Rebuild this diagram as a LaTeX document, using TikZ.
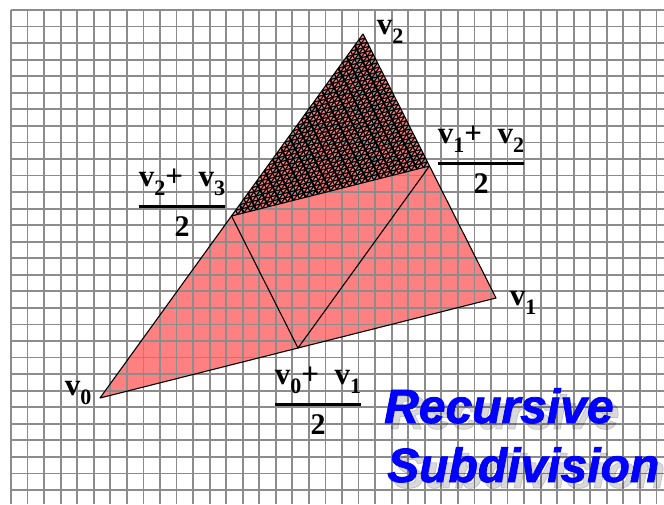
\documentclass[tikz,border=0pt]{standalone}
\usepackage{amsmath}
\usepackage{fontspec}
\setmainfont{Liberation Serif}
\newfontfamily\titlefont{Liberation Sans Bold Italic}[FakeBold=1.6]
\usetikzlibrary{calc, positioning}

\definecolor{tripink}{RGB}{255,128,128}
\definecolor{gridgray}{RGB}{140,140,140}
\definecolor{titleblue}{RGB}{0,0,255}

% vertex label: bold v with a lowered index
\newcommand\vv[1]{\textbf{v}\raisebox{-0.3em}{\fontsize{22}{22}\selectfont\bfseries #1}}
% half sum of two vertices
\newcommand\halfsum[2]{$\genfrac{}{}{3pt}{0}{\text{\vv{#1}\textbf{+}\hspace{0.5em}\vv{#2}}}{\text{\fontsize{30}{30}\selectfont\bfseries 2}}$}

\begin{document}
\begin{tikzpicture}[x=1pt, y=-1pt,
    gridline/.style={draw=gridgray, line width=1.8pt},
    meshline/.style={draw=black, line width=1.2pt},
    edge/.style={draw=black, line width=1.1pt, line join=round},
    vlabel/.style={font=\fontsize{31}{33}\selectfont, inner sep=0pt},
    titletext/.style={font=\titlefont\fontsize{48}{52}\selectfont,
      inner sep=0pt, anchor=base west}]

  \useasboundingbox (0,0) rectangle (664,504);
  \fill[white] (0,0) rectangle (664,504);

  \coordinate (v0) at (100,398);
  \coordinate (v1) at (496,298);
  \coordinate (v2) at (363,34);
  \coordinate (m01) at ($(v0)!0.5!(v1)$);
  \coordinate (m12) at ($(v1)!0.5!(v2)$);
  \coordinate (m02) at ($(v0)!0.5!(v2)$);

  \fill[tripink] (v0) -- (v1) -- (v2) -- cycle;

  % grid
  \foreach \i in {0,...,39}
    \draw[gridline] ({11+16.55*\i},10) -- ({11+16.55*\i},504);
  \foreach \j in {0,...,29}
    \draw[gridline] (11,{10+16.55*\j}) -- (664,{10+16.55*\j});

  % finer subdivision of the top triangle
  \begin{scope}
    \clip (v2) -- (m02) -- (m12) -- cycle;
    \foreach \i in {1,...,31} {
      \draw[meshline] ($(v2)!{\i/32}!(m02)$) -- ($(v2)!{\i/32}!(m12)$);
      \draw[meshline] ($(m12)!{\i/32}!(v2)$) -- ($(m12)!{\i/32}!(m02)$);
      \draw[meshline] ($(m02)!{\i/32}!(v2)$) -- ($(m02)!{\i/32}!(m12)$);
    }
    \foreach \i in {2,4,...,30}
      \draw[meshline, line width=1.9pt] ($(m02)!{\i/32}!(v2)$) -- ($(m02)!{\i/32}!(m12)$);
  \end{scope}

  \draw[edge] (v0) -- (v1) -- (v2) -- cycle;
  \draw[edge] (m02) -- (m12) -- (m01) -- cycle;

  \node[vlabel] (l0) at (78,393) {\vv{0}};
  \node[vlabel] (l1) at (523,303) {\vv{1}};
  \node[vlabel] (l2) at (390,32) {\vv{2}};

  \node[vlabel] (h23) at (182,203) {\halfsum{2}{3}};
  \node[vlabel] (h12) at (481,160) {\halfsum{1}{2}};
  \node[vlabel] (h01) at (318,401) {\halfsum{0}{1}};

  \node[titletext, text=black, opacity=0.15] (rs) at (390,429) {Recursive};
  \node[titletext, text=black, opacity=0.15] (ss) at (393,488) {Subdivision};
  \node[titletext, text=titleblue] (rec) at (384,423) {Recursive};
  \node[titletext, text=titleblue] (sub) at (387,482) {Subdivision};

\end{tikzpicture}
\end{document}
